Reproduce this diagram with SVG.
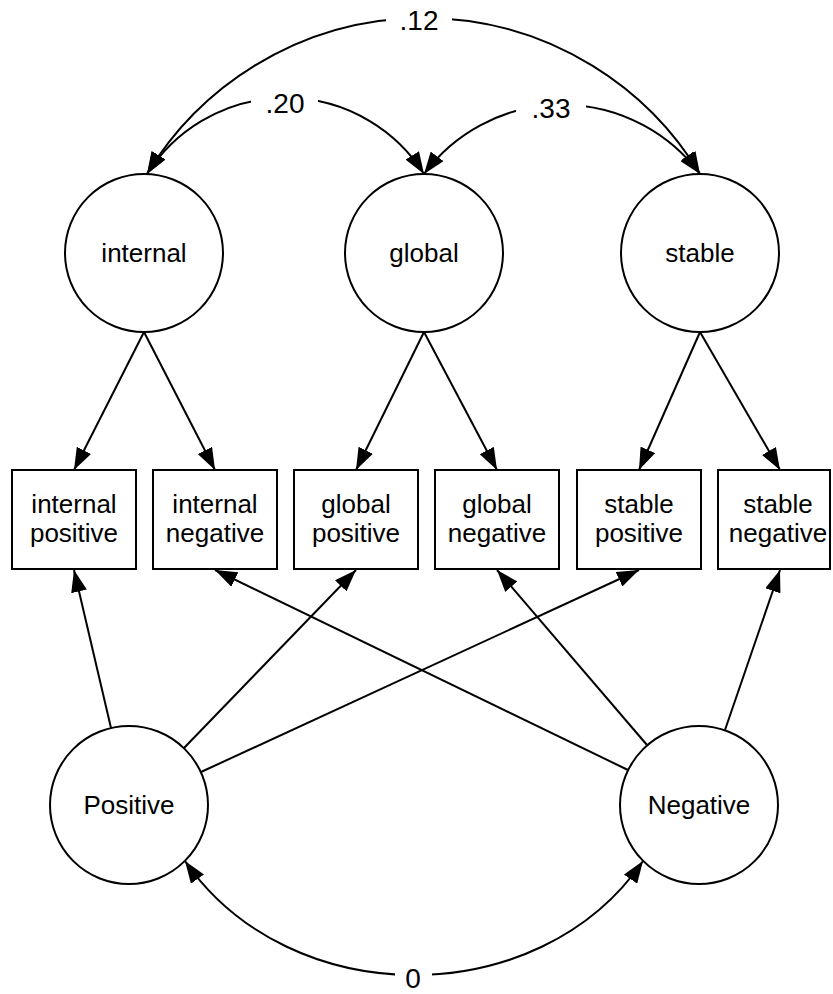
<svg xmlns="http://www.w3.org/2000/svg" width="833" height="994" viewBox="0 0 833 994">
  <style>
    .node { fill: #fff; stroke: #000; stroke-width: 2; }
    .label { font-family: "Liberation Sans", Arial, Helvetica, sans-serif; font-size: 26px; fill: #000; text-anchor: middle; }
    .coef { font-family: "Liberation Sans", Arial, Helvetica, sans-serif; font-size: 28px; fill: #000; text-anchor: middle; }
    .edge { fill: none; stroke: #000; stroke-width: 2; }
    .gap { fill: #fff; stroke: none; }
  </style>
  <defs>
    <marker id="arrow" markerUnits="userSpaceOnUse" markerWidth="22" markerHeight="16" refX="22" refY="8" orient="auto-start-reverse">
      <path d="M0,0 L22,8 L0,16 z" fill="#000"/>
    </marker>
  </defs>

  <!-- paths: loadings, cross-loadings and covariances -->
  <g id="connectors">
    <!-- factor loadings from attribution factors to indicators -->
    <path class="edge" d="M144,332 L74,470" marker-end="url(#arrow)"/>
    <path class="edge" d="M144,332 L215,470" marker-end="url(#arrow)"/>
    <path class="edge" d="M424,332 L356,470" marker-end="url(#arrow)"/>
    <path class="edge" d="M424,332 L497,470" marker-end="url(#arrow)"/>
    <path class="edge" d="M700,332 L639,470" marker-end="url(#arrow)"/>
    <path class="edge" d="M700,332 L780,470" marker-end="url(#arrow)"/>

    <!-- valence method factors to indicators -->
    <path class="edge" d="M111,728 L74,570" marker-end="url(#arrow)"/>
    <path class="edge" d="M184,748 L356,570" marker-end="url(#arrow)"/>
    <path class="edge" d="M201,772 L639,570" marker-end="url(#arrow)"/>
    <path class="edge" d="M628,770 L215,570" marker-end="url(#arrow)"/>
    <path class="edge" d="M647,745 L497,570" marker-end="url(#arrow)"/>
    <path class="edge" d="M725,730 L780,570" marker-end="url(#arrow)"/>

    <!-- factor covariances -->
    <path class="edge" d="M147,174 A323,323 0 0 1 700,174" marker-start="url(#arrow)" marker-end="url(#arrow)"/>
    <path class="edge" d="M147,174 A164,164 0 0 1 424,174" marker-start="url(#arrow)" marker-end="url(#arrow)"/>
    <path class="edge" d="M424,174 A172,172 0 0 1 700,174" marker-start="url(#arrow)" marker-end="url(#arrow)"/>
    <path class="edge" d="M185,861 C290,1013 539,1013 643,861" marker-start="url(#arrow)" marker-end="url(#arrow)"/>

    <!-- coefficient labels -->
    <rect class="gap" x="386" y="4" width="66" height="34"/>
    <text class="coef" x="419" y="30">.12</text>
    <rect class="gap" x="251" y="86" width="67" height="34"/>
    <text class="coef" x="285" y="113">.20</text>
    <rect class="gap" x="516" y="90" width="70" height="34"/>
    <text class="coef" x="551" y="118">.33</text>
    <rect class="gap" x="395" y="960" width="37" height="34"/>
    <text class="coef" x="413" y="988">0</text>
  </g>

  <!-- latent attribution factors -->
  <g id="internal">
    <circle class="node" cx="144" cy="253" r="79"/>
    <text class="label" x="144" y="262">internal</text>
  </g>
  <g id="global">
    <circle class="node" cx="424" cy="253" r="79"/>
    <text class="label" x="424" y="262">global</text>
  </g>
  <g id="stable">
    <circle class="node" cx="700" cy="253" r="79"/>
    <text class="label" x="700" y="262">stable</text>
  </g>

  <!-- observed indicators -->
  <g id="internal-positive">
    <rect class="node" x="12" y="470" width="124" height="99"/>
    <text class="label" x="74" y="513">internal</text>
    <text class="label" x="74" y="542">positive</text>
  </g>
  <g id="internal-negative">
    <rect class="node" x="153" y="470" width="124" height="99"/>
    <text class="label" x="215" y="513">internal</text>
    <text class="label" x="215" y="542">negative</text>
  </g>
  <g id="global-positive">
    <rect class="node" x="294" y="470" width="124" height="99"/>
    <text class="label" x="356" y="513">global</text>
    <text class="label" x="356" y="542">positive</text>
  </g>
  <g id="global-negative">
    <rect class="node" x="435" y="470" width="124" height="99"/>
    <text class="label" x="497" y="513">global</text>
    <text class="label" x="497" y="542">negative</text>
  </g>
  <g id="stable-positive">
    <rect class="node" x="577" y="470" width="124" height="99"/>
    <text class="label" x="639" y="513">stable</text>
    <text class="label" x="639" y="542">positive</text>
  </g>
  <g id="stable-negative">
    <rect class="node" x="718" y="470" width="112" height="99"/>
    <text class="label" x="778" y="513">stable</text>
    <text class="label" x="778" y="542">negative</text>
  </g>

  <!-- valence method factors -->
  <g id="positive">
    <circle class="node" cx="129" cy="805" r="79"/>
    <text class="label" x="129" y="814">Positive</text>
  </g>
  <g id="negative">
    <circle class="node" cx="699" cy="805" r="79"/>
    <text class="label" x="699" y="814">Negative</text>
  </g>
</svg>
